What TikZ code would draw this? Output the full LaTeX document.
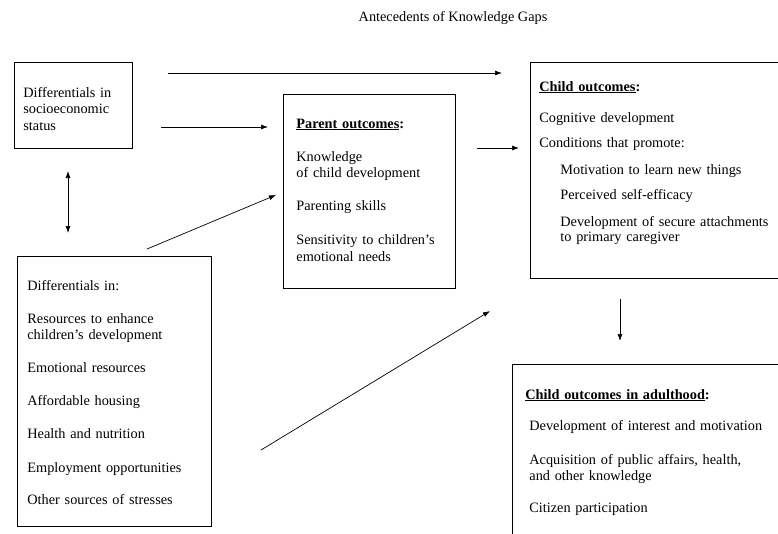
\documentclass[tikz,border=0pt]{standalone}
\usepackage{fontspec}
\setmainfont{Liberation Serif}
\usetikzlibrary{arrows.meta}

\begin{document}
\begin{tikzpicture}[x = 1pt, y = -1pt, line width = 0.8pt,
every node/.style = {font = \fontsize{14.3}{16.5}\selectfont}]

\tikzset{
	gap_box/.style = {
		draw, rectangle, anchor = north west, inner sep = 0pt
	},
	gap_text/.style = {
		anchor = base west, align = left, inner sep = 0pt
	},
	gap_arrow/.style = {
		-{Latex[length = 7pt, width = 5pt]}, line width = 0.7pt
	},
	gap_both/.style = {
		{Latex[length = 7pt, width = 5pt]}-{Latex[length = 7pt, width = 5pt]},
		line width = 0.7pt
	}
}

\useasboundingbox (0,0) rectangle (778,533);
\clip (0,0) rectangle (778,533); % las cajas de la derecha se salen del borde

\node[anchor = base] (TIT) at (453,21) {Antecedents of Knowledge Gaps};

% Cajas
\node[gap_box, minimum width = 118, minimum height = 86] (SES) at (14,62) {};
\node[gap_box, minimum width = 194, minimum height = 270] (DI) at (17,256) {};
\node[gap_box, minimum width = 172, minimum height = 194] (PO) at (283,94) {};
\node[gap_box, minimum width = 270, minimum height = 216] (CO) at (530,62) {};
\node[gap_box, minimum width = 290, minimum height = 200] (CA) at (512,364) {};

% Textos
\node[gap_text, text width = 110pt] (SEST) at (23,97)
	{Differentials in\\ socioeconomic\\ status};
\node[gap_text, text width = 180pt] (DIT) at (27,290)
	{Differentials in:\\[16.5pt]
	Resources to enhance\\ children's development\\[16.5pt]
	Emotional resources\\[16.5pt]
	Affordable housing\\[16pt]
	Health and nutrition\\[17.5pt]
	Employment opportunities\\[16pt]
	Other sources of stresses};
\node[gap_text, text width = 160pt] (POT) at (296,128)
	{\textbf{\underline{Parent outcomes}:}\\[16.5pt]
	Knowledge\\ of child development\\[16.5pt]
	Parenting skills\\[17.5pt]
	Sensitivity to children's\\ emotional needs};
\node[gap_text, text width = 236pt, font = \fontsize{14.3}{15}\selectfont] (COT) at (539,91)
	{\textbf{\underline{Child outcomes}:}\\[16pt]
	Cognitive development\\[10pt]
	Conditions that promote:\\[12pt]
	\hspace*{21pt}Motivation to learn new things\\[10pt]
	\hspace*{21pt}Perceived self-efficacy\\[12pt]
	\hspace*{21pt}Development of secure attachments\\
	\hspace*{21pt}to primary caregiver};
\node[gap_text, text width = 248pt] (CAT) at (525,399)
	{\textbf{\underline{Child outcomes in adulthood}:}\\[14.5pt]
	\hspace*{4pt}Development of interest and motivation\\[17.5pt]
	\hspace*{4pt}Acquisition of public affairs, health,\\
	\hspace*{4pt}and other knowledge\\[15.5pt]
	\hspace*{4pt}Citizen participation};

% Extremos de las flechas (no tocan las cajas)
\coordinate (A1) at (168,73);  \coordinate (B1) at (502,73);
\coordinate (A2) at (161,127); \coordinate (B2) at (268,127);
\coordinate (A3) at (68,171);  \coordinate (B3) at (68,233);
\coordinate (A4) at (147,249); \coordinate (B4) at (276,195);
\coordinate (A5) at (477,148); \coordinate (B5) at (519,148);
\coordinate (A6) at (261,450); \coordinate (B6) at (490,311);
\coordinate (A7) at (620,299); \coordinate (B7) at (620,341);

\draw[gap_arrow] (A1) -- (B1); % SES -> hijos
\draw[gap_arrow] (A2) -- (B2); % SES -> padres
\draw[gap_both] (A3) -- (B3); % doble sentido
\draw[gap_arrow] (A4) -- (B4);
\draw[gap_arrow] (A5) -- (B5);
\draw[gap_arrow] (A6) -- (B6);
\draw[gap_arrow] (A7) -- (B7); % hacia la adultez
\end{tikzpicture}
\end{document}
